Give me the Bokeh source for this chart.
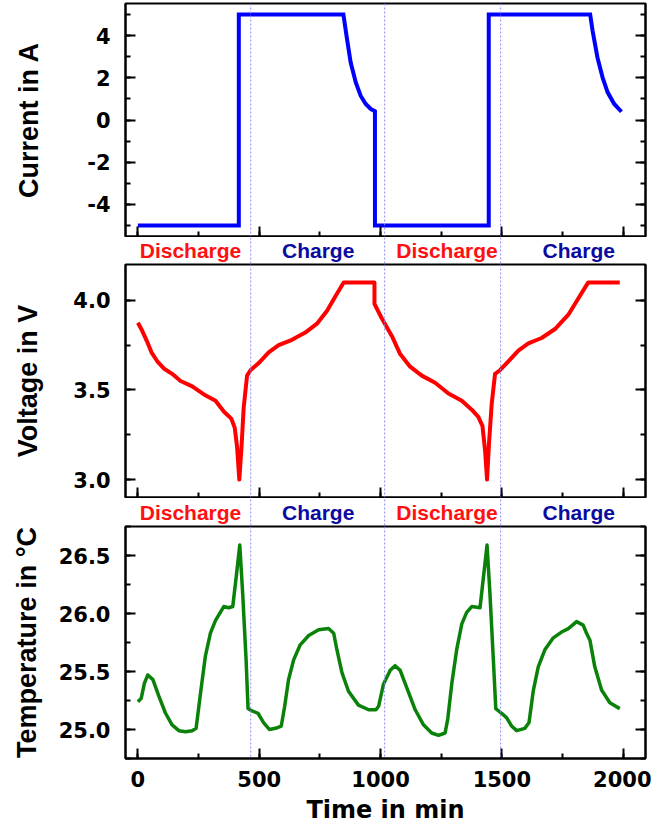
from bokeh.plotting import figure
from bokeh.layouts import column
from bokeh.models import (Range1d, LinearAxis, SingleIntervalTicker,
                          NumeralTickFormatter, CustomJSTickFormatter, Span)
from bokeh.core.properties import value
from bokeh.embed import file_html
from bokeh.resources import INLINE

# ---------------- data ----------------
cur_t = [0, 416, 416, 847, 861, 877, 898, 918, 939, 960, 977, 977,
         1446, 1446, 1864, 1874, 1894, 1915, 1936, 1963, 1993]
cur_a = [-5, -5, 5, 5, 3.9, 2.72, 1.78, 1.15, 0.76, 0.52, 0.42, -5,
         -5, 5, 5, 4.22, 2.96, 2.02, 1.31, 0.76, 0.39]

volt_t = [0, 18, 38, 56, 80, 107, 141, 176, 224, 278,
          320, 354, 385, 399, 409, 418, 427, 436, 450, 464,
          498, 539, 580, 635, 690, 738, 779, 813, 848, 975,
          975, 1005, 1047, 1081, 1122, 1170, 1225, 1280, 1335, 1376,
          1403, 1420, 1431, 1439, 1447, 1458, 1472, 1492, 1527, 1568,
          1609, 1664, 1719, 1774, 1815, 1856, 1986]
volt_v = [3.875, 3.83, 3.77, 3.71, 3.66, 3.62, 3.59, 3.55, 3.52, 3.47,
          3.44, 3.38, 3.34, 3.29, 3.18, 3.00, 3.18, 3.40, 3.58, 3.61,
          3.65, 3.71, 3.75, 3.78, 3.82, 3.87, 3.94, 4.02, 4.10, 4.10,
          3.98, 3.90, 3.80, 3.70, 3.63, 3.58, 3.54, 3.48, 3.44, 3.39,
          3.35, 3.30, 3.16, 3.00, 3.20, 3.42, 3.59, 3.61, 3.66, 3.72,
          3.76, 3.79, 3.84, 3.92, 4.01, 4.10, 4.10]

temp_t = [0, 14, 27, 41, 62, 86, 114, 141, 169, 196,
          224, 240, 258, 278, 299, 320, 354, 374, 391, 405,
          420, 432, 446, 454, 470, 495, 518, 542, 567, 591,
          605, 621, 642, 669, 704, 745, 786, 807, 820, 841,
          868, 909, 951, 981, 992, 1012, 1040, 1060, 1081, 1108,
          1143, 1177, 1211, 1239, 1266, 1277, 1294, 1314, 1335, 1355,
          1376, 1410, 1424, 1439, 1451, 1465, 1475, 1499, 1520, 1540,
          1561, 1595, 1612, 1630, 1650, 1678, 1712, 1746, 1774, 1808,
          1835, 1849, 1863, 1883, 1911, 1945, 1986]
temp_c = [25.24, 25.27, 25.40, 25.47, 25.43, 25.29, 25.14, 25.04, 24.99, 24.98,
          24.99, 25.01, 25.31, 25.63, 25.83, 25.94, 26.06, 26.05, 26.06, 26.31,
          26.59, 26.17, 25.60, 25.18, 25.16, 25.14, 25.06, 25.00, 25.01, 25.03,
          25.20, 25.43, 25.60, 25.73, 25.81, 25.86, 25.87, 25.83, 25.69, 25.49,
          25.33, 25.21, 25.17, 25.17, 25.20, 25.39, 25.51, 25.55, 25.51, 25.36,
          25.17, 25.04, 24.97, 24.95, 24.97, 25.09, 25.40, 25.69, 25.91, 26.01,
          26.06, 26.05, 26.31, 26.59, 26.17, 25.60, 25.18, 25.14, 25.10, 25.03,
          24.99, 25.01, 25.06, 25.34, 25.54, 25.69, 25.79, 25.84, 25.87, 25.93,
          25.90, 25.83, 25.77, 25.54, 25.34, 25.23, 25.18]

phase_x = [217, 743, 1274, 1817]
phase_text = ["Discharge", "Charge", "Discharge", "Charge"]
phase_color = ["#ff1010", "#0a0aa0", "#ff1010", "#0a0aa0"]
marker_t = [465, 1017, 1495]

X_RANGE = (-51, 2092)
TICK_FONT = "DejaVu Sans"
TITLE_FONT = "Liberation Sans"
DOT_COLOR = "#8a8af5"
BLANK = "return ''"


def style_axis(ax):
    ax.axis_line_width = 2
    ax.axis_line_color = "black"
    ax.major_tick_in = 10
    ax.major_tick_out = 0
    ax.minor_tick_in = 5
    ax.minor_tick_out = 0
    ax.major_tick_line_width = 2
    ax.minor_tick_line_width = 2
    ax.major_label_text_font = TICK_FONT
    ax.major_label_text_font_style = "bold"
    ax.major_label_text_font_size = "21px"
    ax.major_label_text_color = "black"


def make_fig(frame_h, yr, y_interval, ylabel, label_standoff,
             top_border, bottom_border, show_x_labels, fmt=None, overrides=None):
    p = figure(frame_width=520, frame_height=frame_h,
               x_range=Range1d(*X_RANGE), y_range=Range1d(*yr),
               output_backend="svg", toolbar_location=None,
               min_border_left=125, min_border_right=6,
               min_border_top=top_border, min_border_bottom=bottom_border,
               background_fill_color="white", border_fill_color="white")
    p.xgrid.visible = False
    p.ygrid.visible = False
    p.outline_line_color = "black"
    p.outline_line_width = 2

    xt = SingleIntervalTicker(interval=500, num_minor_ticks=2)
    yt = SingleIntervalTicker(interval=y_interval, num_minor_ticks=2)

    xa = p.xaxis[0]
    xa.ticker = xt
    ya = p.yaxis[0]
    ya.ticker = yt
    if fmt:
        ya.formatter = NumeralTickFormatter(format=fmt)
    if overrides:
        ya.major_label_overrides = overrides
    style_axis(xa)
    style_axis(ya)

    ya.major_label_standoff = 15
    ya.axis_label = ylabel
    ya.axis_label_text_font = TITLE_FONT
    ya.axis_label_text_font_style = "bold"
    ya.axis_label_text_font_size = "27px"
    ya.axis_label_text_color = "black"
    ya.axis_label_standoff = label_standoff

    if show_x_labels:
        xa.major_label_standoff = 12
        xa.axis_label = "Time in min"
        xa.axis_label_text_font = TICK_FONT
        xa.axis_label_text_font_style = "bold"
        xa.axis_label_text_font_size = "24px"
        xa.axis_label_text_color = "black"
        xa.axis_label_standoff = 6
    else:
        xa.formatter = CustomJSTickFormatter(code=BLANK)
        xa.major_label_text_font_size = "1px"
        xa.major_label_standoff = 0

    ra = LinearAxis(ticker=yt, formatter=CustomJSTickFormatter(code=BLANK))
    style_axis(ra)
    ra.major_label_text_font_size = "1px"
    ra.major_label_standoff = 0
    p.add_layout(ra, "right")

    for t in marker_t:
        p.add_layout(Span(location=t, dimension="height", line_color=DOT_COLOR,
                          line_width=1, line_dash="2 2"))
    return p


def make_strip(height):
    s = figure(frame_width=520, frame_height=height,
               x_range=Range1d(*X_RANGE), y_range=Range1d(0, 1),
               output_backend="svg", toolbar_location=None,
               x_axis_location=None, y_axis_location=None,
               min_border_left=125, min_border_right=6,
               min_border_top=0, min_border_bottom=0,
               background_fill_color="white", border_fill_color="white")
    s.xgrid.visible = False
    s.ygrid.visible = False
    s.outline_line_color = None
    s.segment(x0=marker_t, y0=[0] * len(marker_t), x1=marker_t,
              y1=[1] * len(marker_t), line_color=DOT_COLOR, line_width=1,
              line_dash="2 2")
    s.text(x=phase_x, y=[0.5] * len(phase_x), text=phase_text,
           text_color=phase_color, text_font=value(TITLE_FONT),
           text_font_style="bold", text_font_size=value("21px"),
           text_align="center", text_baseline="middle")
    return s


# Current panel
p1 = make_fig(233, (-5.515, 5.515), 2, "Current in A", 40, 3, 1, False,
              overrides={-4: "-4", -2: "-2"})
p1.line(cur_t, cur_a, line_color="#0000ff", line_width=4, line_join="miter")

s1 = make_strip(26)

# Voltage panel
p2 = make_fig(233, (2.9, 4.2), 0.5, "Voltage in V", 27, 1, 1, False, fmt="0.0")
p2.line(volt_t, volt_v, line_color="#ff0000", line_width=4, line_join="round")

s2 = make_strip(27)

# Temperature panel
p3 = make_fig(232, (24.75, 26.75), 0.5, "Temperature in °C", 14, 1, 70, True,
              fmt="0.0")
p3.line(temp_t, temp_c, line_color="#0a820a", line_width=3.5, line_join="round")

layout = column(p1, s1, p2, s2, p3, spacing=0)
open("out.html", "w").write(file_html(layout, INLINE))
